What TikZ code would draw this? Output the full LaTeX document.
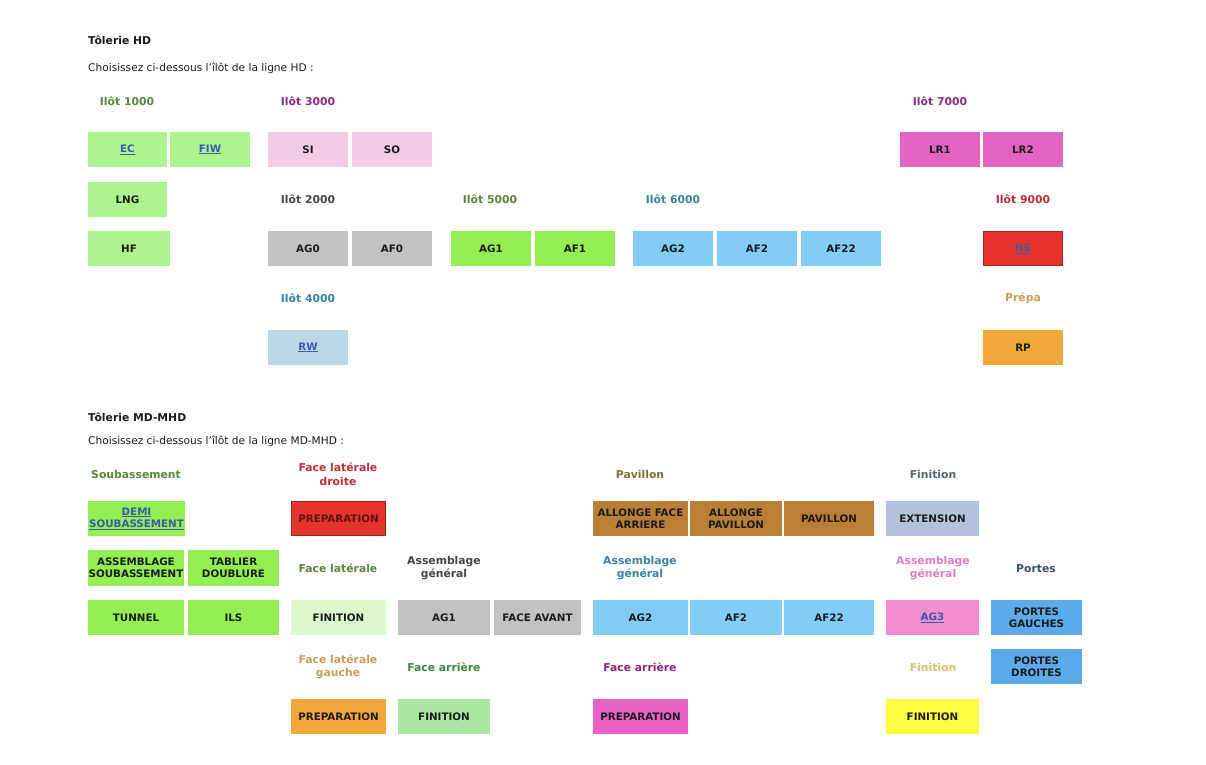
\documentclass[tikz,border=0pt]{standalone}
\usepackage{fontspec}
\setmainfont{DejaVu Sans}
\definecolor{lgreen}{RGB}{172,245,142}
\definecolor{bgreen}{RGB}{146,238,82}
\definecolor{pgreen}{RGB}{218,250,204}
\definecolor{mgreen}{RGB}{170,232,162}
\definecolor{spink}{RGB}{245,202,230}
\definecolor{mpink}{RGB}{228,100,196}
\definecolor{agpink}{RGB}{240,142,206}
\definecolor{prpink}{RGB}{232,98,198}
\definecolor{gbox}{RGB}{194,194,194}
\definecolor{bbox}{RGB}{130,205,248}
\definecolor{rbox}{RGB}{228,52,44}
\definecolor{rborder}{RGB}{165,35,35}
\definecolor{rwbox}{RGB}{186,216,232}
\definecolor{obox}{RGB}{240,168,56}
\definecolor{brbox}{RGB}{186,126,52}
\definecolor{exbox}{RGB}{178,194,218}
\definecolor{pobox}{RGB}{92,170,234}
\definecolor{ybox}{RGB}{255,255,66}
\definecolor{linkc}{RGB}{58,90,175}
\definecolor{tgreen}{RGB}{88,135,60}
\definecolor{tpurple}{RGB}{140,45,140}
\definecolor{tgray}{RGB}{70,70,70}
\definecolor{tteal}{RGB}{58,130,165}
\definecolor{tred}{RGB}{195,45,55}
\definecolor{ttan}{RGB}{200,160,85}
\definecolor{tbrown}{RGB}{135,110,50}
\definecolor{tslate}{RGB}{85,100,120}
\definecolor{tpink}{RGB}{225,125,195}
\definecolor{tnavy}{RGB}{55,80,110}
\definecolor{tfgreen}{RGB}{60,135,60}
\definecolor{tmag}{RGB}{145,35,130}
\definecolor{tyel}{RGB}{225,190,110}
\definecolor{txt}{RGB}{28,28,28}
\tikzset{
  box/.style={rectangle, inner sep=0pt, align=center, text=txt,
    font=\bfseries\fontsize{10.3}{12}\selectfont},
  hdr/.style={inner sep=0pt, align=center, font=\bfseries\fontsize{10.8}{13.5}\selectfont},
  ttl/.style={inner sep=0pt, anchor=west, text=txt, font=\bfseries\fontsize{10.8}{12}\selectfont},
  sub/.style={inner sep=0pt, anchor=west, text=txt, font=\fontsize{10.6}{12}\selectfont}
}
\newcommand\bx[7]{\node[box,#6,minimum width=#4,minimum height=#5] (#1) at (#2,#3) {#7};}
\newcommand\lnk[1]{\textcolor{linkc}{\underline{#1}}}
\begin{document}
\begin{tikzpicture}[x=1pt,y=-1pt]
\useasboundingbox[fill=white] (0,0) rectangle (1206,764);
% ---------- Tolerie HD ----------
\node[ttl] (t1) at (88,40) {Tôlerie HD};
\node[sub] (s1) at (88,68) {Choisissez ci-dessous l'îlôt de la ligne HD :};
\node[hdr,text=tgreen] (h1000) at (127,101) {Ilôt 1000};
\node[hdr,text=tpurple] (h3000) at (308,101) {Ilôt 3000};
\node[hdr,text=tpurple] (h7000) at (940,101) {Ilôt 7000};
\node[hdr,text=tgray] (h2000) at (308,199) {Ilôt 2000};
\node[hdr,text=tgreen] (h5000) at (490,199) {Ilôt 5000};
\node[hdr,text=tteal] (h6000) at (673,199) {Ilôt 6000};
\node[hdr,text=tred] (h9000) at (1023,199) {Ilôt 9000};
\node[hdr,text=tteal] (h4000) at (308,298) {Ilôt 4000};
\node[hdr,text=ttan] (hprepa) at (1023,298) {Prépa};
\bx{ec}{127.5}{149.5}{79}{35}{fill=lgreen}{\lnk{EC}}
\bx{fiw}{210}{149.5}{80}{35}{fill=lgreen}{\lnk{FIW}}
\bx{si}{308}{149.5}{80}{35}{fill=spink}{SI}
\bx{so}{392}{149.5}{80}{35}{fill=spink}{SO}
\bx{lr1}{940}{149.5}{80}{35}{fill=mpink}{LR1}
\bx{lr2}{1023}{149.5}{80}{35}{fill=mpink}{LR2}
\bx{lng}{127.5}{199.5}{79}{35}{fill=lgreen}{LNG}
\bx{hf}{129}{248.5}{82}{35}{fill=lgreen}{HF}
\bx{ag0}{308}{248.5}{80}{35}{fill=gbox}{AG0}
\bx{af0}{392}{248.5}{80}{35}{fill=gbox}{AF0}
\bx{ag1t}{491}{248.5}{80}{35}{fill=bgreen}{AG1}
\bx{af1t}{575}{248.5}{80}{35}{fill=bgreen}{AF1}
\bx{ag2t}{673}{248.5}{80}{35}{fill=bbox}{AG2}
\bx{af2t}{757}{248.5}{80}{35}{fill=bbox}{AF2}
\bx{af22t}{841}{248.5}{80}{35}{fill=bbox}{AF22}
\bx{hs}{1023}{248.5}{79}{34}{fill=rbox,draw=rborder,line width=1pt}{\lnk{HS}}
\bx{rw}{308}{347.5}{80}{35}{fill=rwbox}{\lnk{RW}}
\bx{rp}{1023}{347.5}{80}{35}{fill=obox}{RP}
% ---------- Tolerie MD-MHD ----------
\node[ttl] (t2) at (88,417) {Tôlerie MD-MHD};
\node[sub] (s2) at (88,441) {Choisissez ci-dessous l'îlôt de la ligne MD-MHD :};
\node[hdr,text=tgreen] (lsoub) at (136,474) {Soubassement};
\node[hdr,text=tred] (lfld) at (338,474) {Face latérale\\droite};
\node[hdr,text=tbrown] (lpav) at (640,474) {Pavillon};
\node[hdr,text=tslate] (lfin1) at (933,474) {Finition};
\node[hdr,text=tgreen] (lfl) at (338,568) {Face latérale};
\node[hdr,text=tgray] (lag1) at (444,568) {Assemblage\\général};
\node[hdr,text=tteal] (lag2) at (640,568) {Assemblage\\général};
\node[hdr,text=tpink] (lag3) at (933,568) {Assemblage\\général};
\node[hdr,text=tnavy] (lportes) at (1036,569) {Portes};
\node[hdr,text=ttan] (lflg) at (338,667) {Face latérale\\gauche};
\node[hdr,text=tfgreen] (lfa1) at (444,667) {Face arrière};
\node[hdr,text=tmag] (lfa2) at (640,667) {Face arrière};
\node[hdr,text=tyel] (lfin2) at (933,667) {Finition};
% row A
\bx{demi}{136.5}{518.5}{97}{35}{fill=bgreen}{\lnk{DEMI}\\\lnk{SOUBASSEMENT}}
\bx{prepr}{338.5}{518.5}{94}{34}{fill=rbox,draw=rborder,line width=1pt,text={rgb,255:red,95;green,20;blue,20}}{PREPARATION}
\bx{alfa}{640.5}{518.5}{95}{35}{fill=brbox}{ALLONGE FACE\\ARRIERE}
\bx{alpa}{736}{518.5}{92}{35}{fill=brbox}{ALLONGE\\PAVILLON}
\bx{pav}{829}{518.5}{90}{35}{fill=brbox}{PAVILLON}
\bx{ext}{932.5}{518.5}{93}{35}{fill=exbox}{EXTENSION}
% row B
\bx{asoub}{136}{568}{96}{36}{fill=bgreen}{ASSEMBLAGE\\SOUBASSEMENT}
\bx{tab}{233.5}{568}{91}{36}{fill=bgreen}{TABLIER\\DOUBLURE}
% row C
\bx{tun}{136}{617.5}{96}{35}{fill=bgreen}{TUNNEL}
\bx{ils}{233.5}{617.5}{91}{35}{fill=bgreen}{ILS}
\bx{fin1}{338.5}{617.5}{95}{35}{fill=pgreen}{FINITION}
\bx{ag1}{444}{617.5}{92}{35}{fill=gbox}{AG1}
\bx{fav}{537.5}{617.5}{87}{35}{fill=gbox}{FACE AVANT}
\bx{ag2}{640.5}{617.5}{95}{35}{fill=bbox}{AG2}
\bx{af2}{736}{617.5}{92}{35}{fill=bbox}{AF2}
\bx{af22}{829}{617.5}{90}{35}{fill=bbox}{AF22}
\bx{ag3}{932.5}{617.5}{93}{35}{fill=agpink}{\lnk{AG3}}
\bx{pg}{1036.5}{617.5}{91}{35}{fill=pobox}{PORTES\\GAUCHES}
% row D
\bx{pd}{1036.5}{666.5}{91}{35}{fill=pobox}{PORTES\\DROITES}
% row E
\bx{prepo}{338.5}{716.5}{95}{35}{fill=obox}{PREPARATION}
\bx{fin2}{444}{716.5}{92}{35}{fill=mgreen}{FINITION}
\bx{prepp}{640.5}{716.5}{95}{35}{fill=prpink}{PREPARATION}
\bx{fin3}{932.5}{716.5}{93}{35}{fill=ybox}{FINITION}
\end{tikzpicture}
\end{document}
